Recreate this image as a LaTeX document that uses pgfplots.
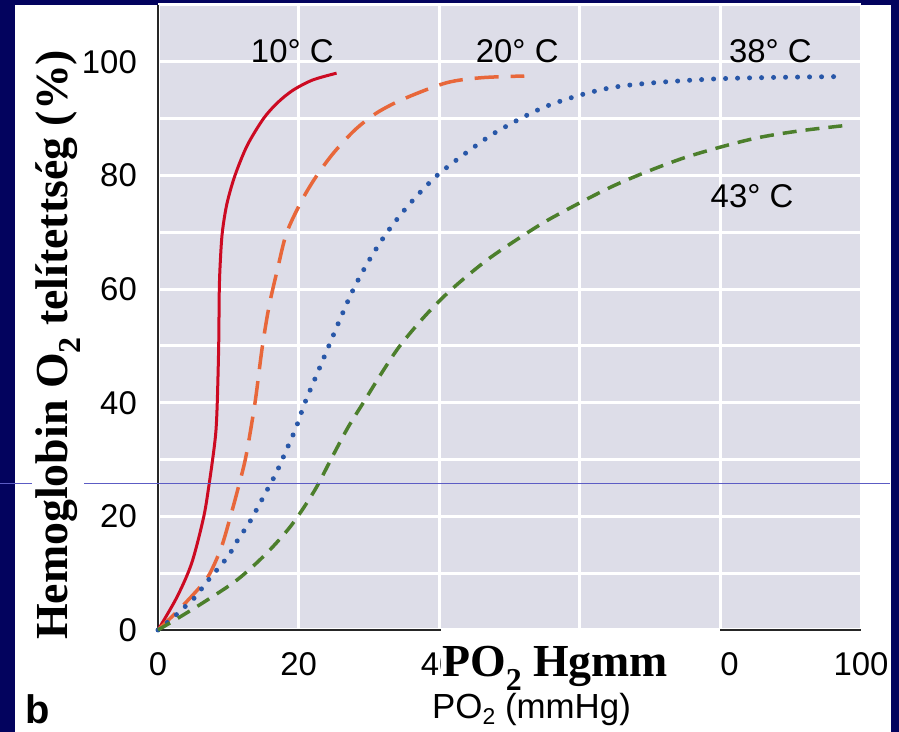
\documentclass[border=0pt]{standalone}
\usepackage{fontspec}
\setmainfont{Liberation Sans}
\newfontfamily\serifbf{Liberation Serif}
\usepackage{pgfplots}
\pgfplotsset{compat=1.18}
\definecolor{navy}{HTML}{03035E}
\definecolor{plotbg}{HTML}{DDDDE8}
\definecolor{c10}{HTML}{CC0A22}
\definecolor{c20}{HTML}{E8673A}
\definecolor{c38}{HTML}{2857A8}
\definecolor{c43}{HTML}{4C7F2C}
\definecolor{stray}{HTML}{5C5CC4}
\newcommand{\fs}[1]{\fontsize{#1}{#1}\selectfont}

\begin{document}
\begin{tikzpicture}
\useasboundingbox (0,0) rectangle (899bp,732bp);
% slide frame and white panel
\fill[navy] (0,0) rectangle (899bp,732bp);
\fill[white] (15bp,0) rectangle (891bp,727bp);

\begin{axis}[
  at={(158bp,102bp)}, anchor=south west,
  scale only axis, width=703bp, height=625bp,
  xmin=0, xmax=100, ymin=0, ymax=110,
  xtick={0,20,...,100}, ytick={0,20,...,100},
  minor ytick={10,30,...,110},
  grid=both,
  major grid style={white, line width=3bp},
  minor grid style={white, line width=3bp},
  axis x line*=bottom, axis y line*=left,
  axis line style={black!85, line width=2.5bp},
  tick style={draw=none}, major tick length=0pt, minor tick length=0pt,
  axis background/.style={fill=plotbg},
  ticklabel style={font=\fs{33}},
  /pgf/number format/assume math mode=true,
  yticklabel style={inner sep=0pt, xshift=-21bp},
  xticklabel style={inner sep=0pt, yshift=-22bp},
  clip=false,
]
% 10 C
\addplot[c10, line width=3bp, smooth] coordinates {
  (0,0) (2.7,5.8) (4.8,11.8) (6.5,19.9) (7.3,25.9) (7.95,31.7) (8.25,35.2)
  (8.43,40) (8.63,49.8) (8.72,60) (8.87,65) (9.15,70) (9.8,75) (10.95,80)
  (12.7,85.3) (15,90) (17,92.8) (19.2,95) (22,96.8) (25.4,98)
};
% 20 C
\addplot[c20, line width=3.5bp, smooth, dash pattern=on 24bp off 12bp] coordinates {
  (0,0) (3,3.6) (6,7.6) (7.4,10) (9,14.5) (10.2,19.5) (11.3,24.5) (12.5,30.5)
  (13.8,40) (14.8,49.5) (15.8,57) (17,63.5) (18.3,69.9) (20.5,75.7) (22.6,80)
  (25,84) (28,88) (31.1,91) (35,93.5) (41,96.3) (46,97.2) (52.1,97.5)
};
% 38 C
\addplot[c38, line width=5bp, line cap=round, smooth, dash pattern=on 0bp off 12bp] coordinates {
  (0,0) (1.4,1.4) (2.9,3) (4.1,4.4) (5.3,5.8) (6.4,7.6) (7.5,9.3) (8.6,10.9)
  (9.8,12.7) (10.7,14.4) (11.6,16.4) (12.6,18.1) (13.5,20) (15.2,23.9)
  (16.8,27.6) (18.2,31.5) (19.6,35.5) (20.9,40) (22.6,45) (24.3,50) (26,55)
  (27.8,60) (30,65) (32.6,70) (35.8,75) (39.7,80) (44.4,84.5) (48.6,88)
  (55.7,92.4) (65.2,95.6) (79.4,97) (96.9,97.4)
};
% 43 C
\addplot[c43, line width=3.5bp, smooth, dash pattern=on 14bp off 9bp] coordinates {
  (0,0) (3,2.2) (6.4,4.8) (10.7,8.3) (13.5,11.2) (16.3,14.6) (19.2,18.8)
  (22.3,24.6) (24.8,30.5) (27,35.6) (29.2,40) (31.8,45.2) (34.4,50) (38,55.3)
  (41.8,60) (47,65.3) (52.9,70.2) (57,73.2) (65.2,78.4) (74.6,83) (84.1,86.3)
  (91,87.8) (98.6,88.9)
};
\node[font=\fs{33}] at (axis cs:19.1,101.9) {10° C};
\node[font=\fs{33}] at (axis cs:51.1,101.9) {20° C};
\node[font=\fs{33}] at (axis cs:87.1,101.9) {38° C};
\node[font=\fs{33}] at (axis cs:84.5,76.4) {43° C};
\end{axis}

% stray line across the slide
\draw[stray, line width=1bp] (0,248bp) -- (890bp,248bp);

% slide overlays
\node[fill=white, rotate=90, anchor=base west, inner sep=3bp, font=\serifbf\bfseries\fs{46}]
  at (67bp,89bp) {Hemoglobin O\raisebox{-0.3em}{\fs{32}2} telítettség (\%)};
\fill[white] (441bp,37bp) rectangle (720bp,104bp);
\node[anchor=base west, inner sep=0pt, font=\serifbf\bfseries\fs{46}]
  at (442bp,55bp) {PO\raisebox{-0.3em}{\fs{32}2} Hgmm};

\node[anchor=base west, inner sep=0pt, font=\fs{35}] at (432bp,14bp)
  {PO\raisebox{-0.2em}{\fs{23}2} (mmHg)};
\node[anchor=base west, inner sep=0pt, font=\bfseries\fs{40}] at (25bp,9bp) {b};
\end{tikzpicture}
\end{document}
